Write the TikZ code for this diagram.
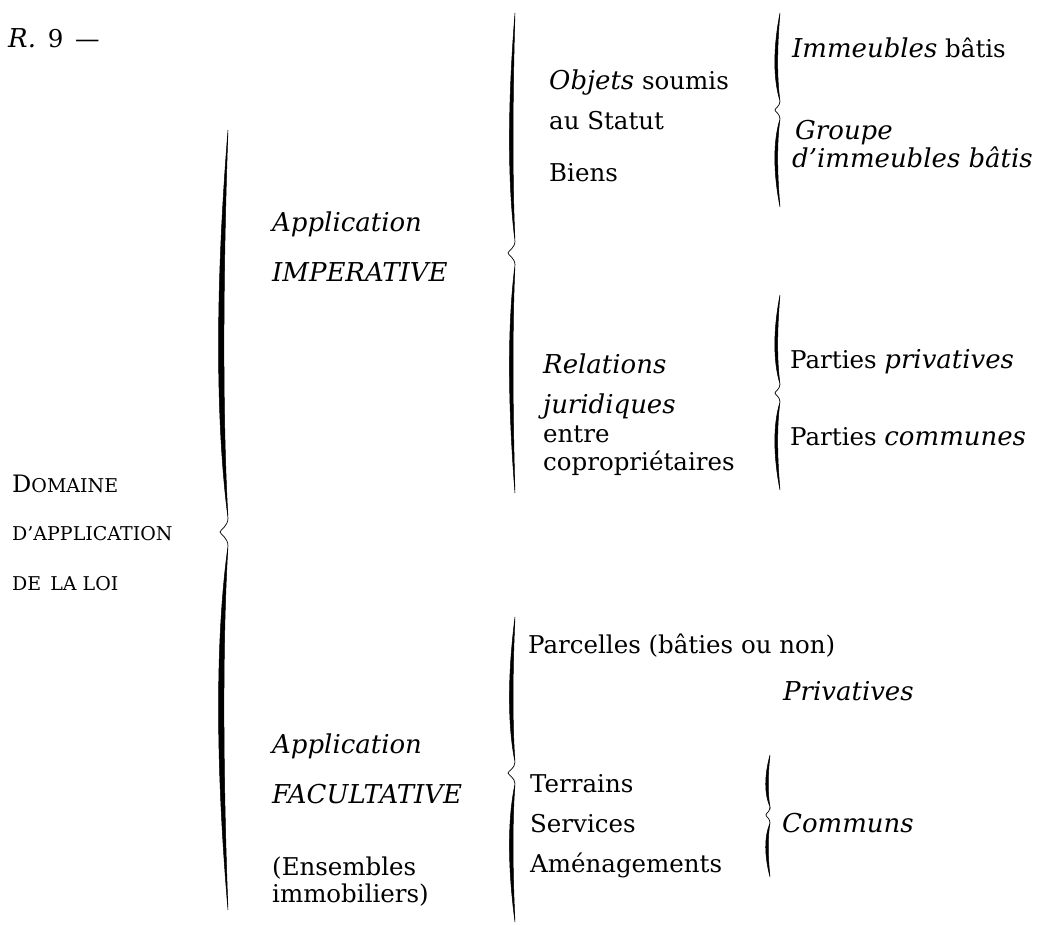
\documentclass[tikz,border=0pt]{standalone}
\usepackage{fontspec}
\setmainfont{DejaVu Serif}[ItalicFeatures={Scale=1.06}]

\tikzset{
  lbl/.style={anchor=base west, inner sep=0pt, font=\fontsize{24.5}{28}\selectfont},
  sc/.style={anchor=base west, inner sep=0pt, font=\fontsize{19}{22}\selectfont},
  bracearm/.style={fill=black, draw=black, line width=0.5pt},
  bracetip/.style={draw=black, line width=0.7pt},
}

% A printed curly brace opening to the right:
% #1 x of the ends, #2 top y, #3 tip y, #4 bottom y,
% #5 depth of the tip, #6 bow of the arms, #7 half thickness, #8 gap around the tip
\newcommand\printbrace[8]{%
  \path[bracearm] (#1,#2)
    .. controls ({#1-#6-#7},{#2+0.4*(#3-#8-#2)}) and ({#1-#6-#7},{#2+0.75*(#3-#8-#2)}) .. (#1,{#3-#8})
    .. controls ({#1-#6+#7},{#2+0.75*(#3-#8-#2)}) and ({#1-#6+#7},{#2+0.4*(#3-#8-#2)}) .. (#1,#2) -- cycle;
  \path[bracearm] (#1,{#3+#8})
    .. controls ({#1-#6-#7},{#3+#8+0.25*(#4-#3-#8)}) and ({#1-#6-#7},{#3+#8+0.6*(#4-#3-#8)}) .. (#1,#4)
    .. controls ({#1-#6+#7},{#3+#8+0.6*(#4-#3-#8)}) and ({#1-#6+#7},{#3+#8+0.25*(#4-#3-#8)}) .. (#1,{#3+#8}) -- cycle;
  \draw[bracetip] (#1,{#3-#8})
    .. controls (#1,{#3-0.4*#8}) and ({#1-#5},{#3-2}) .. ({#1-#5},#3)
    .. controls ({#1-#5},{#3+2}) and (#1,{#3+0.4*#8}) .. (#1,{#3+#8});
}

\begin{document}
\begin{tikzpicture}[x=1pt, y=-1pt]
\useasboundingbox (0,0) rectangle (1052,925);

% heading
\node[lbl] (rnum) at (8,48) {\textit{R.}\hspace{4pt} 9\hspace{4pt} —};

% root
\node[sc] (dom1) at (12,492) {{\fontsize{24}{26}\selectfont D}OMAINE};
\node[sc] (dom2) at (12,540) {D'APPLICATION};
\node[sc] (dom3) at (12,590) {DE\hspace{3pt} LA LOI};

% first level
\node[lbl] (imp1) at (272,232) {\textit{Application}};
\node[lbl] (imp2) at (272,282) {\textit{IMPERATIVE}};
\node[lbl] (fac1) at (272,753) {\textit{Application}};
\node[lbl] (fac2) at (272,803) {\textit{FACULTATIVE}};
\node[lbl] (ens1) at (272,875) {(Ensembles};
\node[lbl] (ens2) at (272,902) {immobiliers)};

% second level, imperative branch
\node[lbl] (obj1) at (549,90) {\textit{Objets} soumis};
\node[lbl] (obj2) at (549,130) {au Statut};
\node[lbl] (obj3) at (549,182) {Biens};
\node[lbl] (rel1) at (543,373) {\textit{Relations}};
\node[lbl] (rel2) at (543,413) {\textit{juridiques}};
\node[lbl] (rel3) at (543,442) {entre};
\node[lbl] (rel4) at (543,470) {copropriétaires};

% second level, optional branch
\node[lbl] (parc) at (528,653) {Parcelles (bâties ou non)};
\node[lbl] (terr) at (530,792) {Terrains};
\node[lbl] (serv) at (530,832) {Services};
\node[lbl] (amen) at (530,872) {Aménagements};

% third level
\node[lbl] (imm)  at (792,58)  {\textit{Immeubles} bâtis};
\node[lbl] (grp1) at (795,140) {\textit{Groupe}};
\node[lbl] (grp2) at (792,168) {\textit{d'immeubles bâtis}};
\node[lbl] (ppriv) at (790,368) {Parties \textit{privatives}};
\node[lbl] (pcom)  at (790,445) {Parties \textit{communes}};
\node[lbl] (priv) at (783,700) {\textit{Privatives}};
\node[lbl] (comm) at (782,832) {\textit{Communs}};

% braces
\printbrace{228}{130}{532}{910}{8}{9}{3.6}{14}
\printbrace{515}{13}{253}{493}{7}{5}{2.4}{12}
\printbrace{780}{13}{110}{207}{5}{5}{1.9}{9}
\printbrace{780}{295}{393}{490}{5}{5}{1.9}{9}
\printbrace{515}{617}{773}{922}{7}{5}{2.4}{11}
\printbrace{770}{755}{815}{877}{4}{4}{1.7}{8}
\end{tikzpicture}
\end{document}
